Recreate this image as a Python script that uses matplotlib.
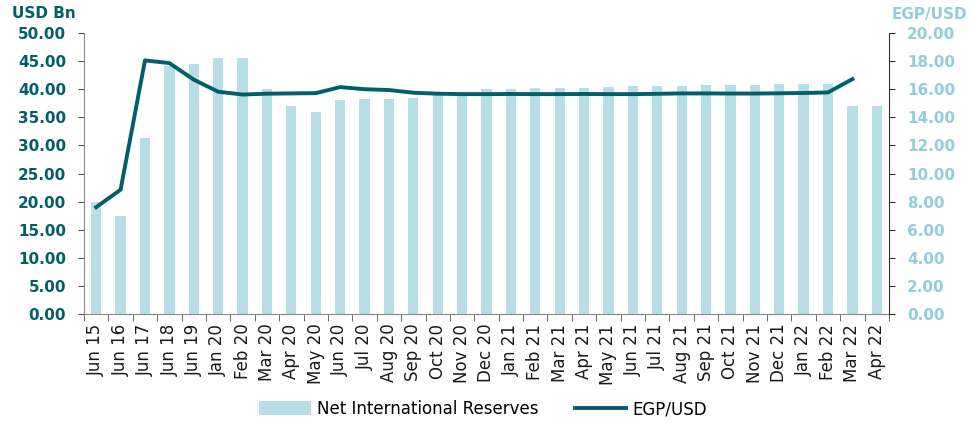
import numpy as np
import matplotlib
matplotlib.use("Agg")
import matplotlib.pyplot as plt

months = ['Jun 15', 'Jun 16', 'Jun 17', 'Jun 18', 'Jun 19', 'Jan 20', 'Feb 20', 'Mar 20',
          'Apr 20', 'May 20', 'Jun 20', 'Jul 20', 'Aug 20', 'Sep 20', 'Oct 20', 'Nov 20',
          'Dec 20', 'Jan 21', 'Feb 21', 'Mar 21', 'Apr 21', 'May 21', 'Jun 21', 'Jul 21',
          'Aug 21', 'Sep 21', 'Oct 21', 'Nov 21', 'Dec 21', 'Jan 22', 'Feb 22', 'Mar 22',
          'Apr 22']
reserves = [20.0, 17.5, 31.3, 44.1, 44.5, 45.5, 45.5, 40.1, 37.0, 36.0, 38.1, 38.3, 38.3,
            38.4, 39.2, 39.2, 40.0, 40.1, 40.2, 40.3, 40.3, 40.4, 40.5, 40.6, 40.6, 40.8,
            40.8, 40.8, 40.9, 40.9, 40.9, 37.0, 37.0]
egp_usd = [7.6, 8.85, 18.05, 17.86, 16.68, 15.82, 15.62, 15.68, 15.70, 15.72, 16.15, 16.0,
           15.94, 15.75, 15.68, 15.65, 15.65, 15.66, 15.65, 15.65, 15.66, 15.65, 15.65, 15.67,
           15.70, 15.70, 15.69, 15.69, 15.71, 15.73, 15.77, 16.72]

dark = '#005F6B'
light_bar = '#B7DDE6'
light_txt = '#92CDDC'

fig = plt.figure(figsize=(9.79, 4.22), dpi=100)
ax = fig.add_axes([84 / 979, 1 - 314 / 422, 805 / 979, 281 / 422])
x = np.arange(len(months))
bars = ax.bar(x, reserves, width=0.42, color=light_bar, label='Net International Reserves', zorder=2)
ax.set_xlim(-0.5, len(months) - 0.5)
ax.set_ylim(0, 50)
ax.set_yticks(np.arange(0, 50.1, 5))
ax.set_yticklabels([f'{v:.2f}' for v in np.arange(0, 50.1, 5)], fontsize=11,
                   fontweight='bold', color=dark)
ax.set_xticks(x)
ax.set_xticklabels(months, rotation=90, fontsize=12, color='#1a1a1a')
ax.set_xticks(np.arange(-0.5, len(months), 1), minor=True)
ax.tick_params(axis='x', which='major', length=0, pad=7)
ax.tick_params(axis='x', which='minor', length=5, color='#555555')
ax.tick_params(axis='y', length=4, color='#555555', pad=9)
for s in ['top', 'right']:
    ax.spines[s].set_visible(False)
for s in ['left', 'bottom']:
    ax.spines[s].set_color('#888888')

ax2 = ax.twinx()
line, = ax2.plot(x[:len(egp_usd)], egp_usd, color=dark, linewidth=2.8, label='EGP/USD', zorder=3)
ax2.set_ylim(0, 20)
ax2.set_yticks(np.arange(0, 20.1, 2))
ax2.set_yticklabels([f'{v:.2f}' for v in np.arange(0, 20.1, 2)], fontsize=11,
                    fontweight='bold', color=light_txt)
ax2.tick_params(axis='y', length=4, color='#333333', pad=9)
for s in ['top', 'left', 'bottom']:
    ax2.spines[s].set_visible(False)
ax2.spines['right'].set_color('#333333')

fig.text(12 / 979, 1 - 14 / 422, 'USD Bn', fontsize=11, fontweight='bold', color=dark,
         va='center', ha='left')
fig.text(967 / 979, 1 - 14 / 422, 'EGP/USD', fontsize=11, fontweight='bold', color=light_txt,
         va='center', ha='right')

fig.legend([bars, line], ['Net International Reserves', 'EGP/USD'], loc='center',
           bbox_to_anchor=(483 / 979, 1 - 409 / 422), ncol=2, frameon=False, fontsize=12,
           handlelength=3.1, handleheight=0.9, handletextpad=0.35, columnspacing=2.2)

fig.savefig('out.png', dpi=100)
